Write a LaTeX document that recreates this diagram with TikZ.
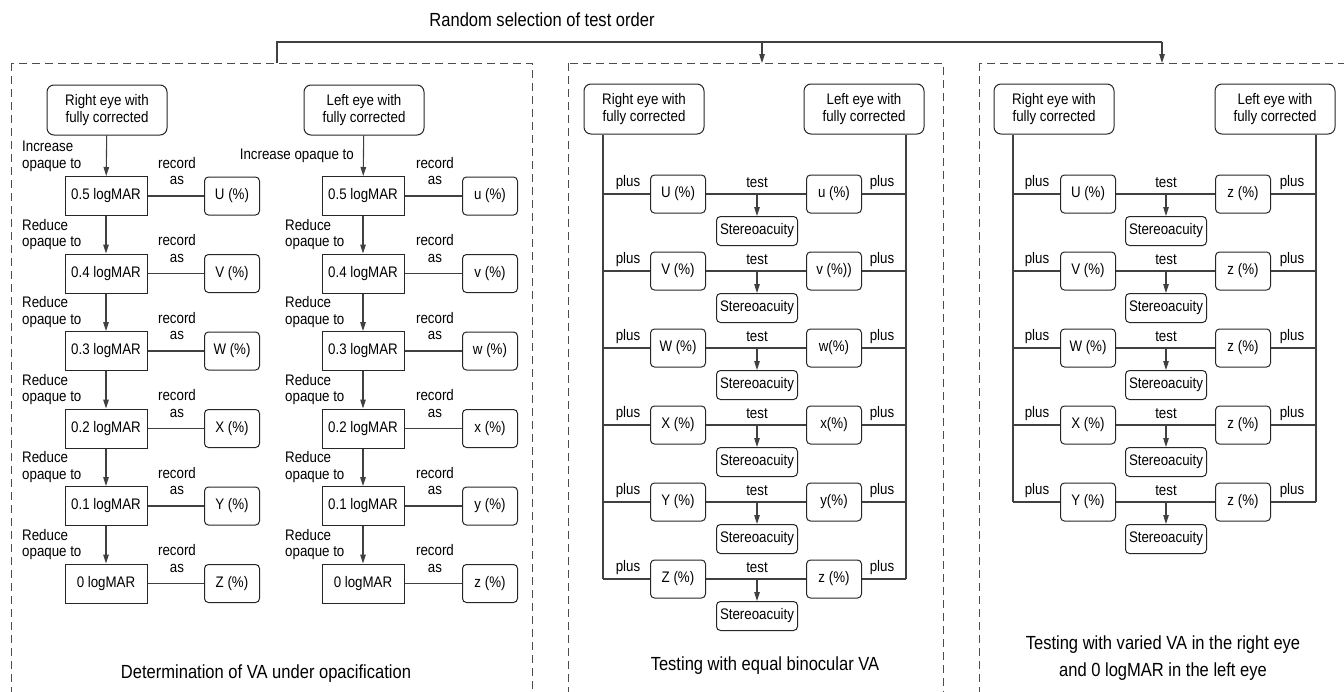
\documentclass[tikz,border=0pt]{standalone}
\usepackage{fontspec}
\setmainfont{Liberation Sans}[FakeStretch=0.87]
\usetikzlibrary{arrows.meta}
\begin{document}
\begin{tikzpicture}[x=1pt,y=-1pt,
  txt/.style={font=\fontsize{15.3}{16.7}\selectfont, inner sep=0pt, align=center},
  rbox/.style={draw=black!85, line width=1pt, rounded corners=7pt, txt, minimum width=120pt, minimum height=50pt},
  sq/.style={draw=black!85, line width=1pt, txt, minimum width=82pt, minimum height=39pt},
  pbox/.style={draw=black!85, line width=1pt, rounded corners=4pt, txt, minimum width=55pt, minimum height=38pt},
  stbox/.style={draw=black!85, line width=1pt, rounded corners=4pt, txt, minimum width=81pt, minimum height=29pt},
  conn/.style={draw=black!75, line width=1.1pt},
  arr/.style={conn, -{Triangle[length=9pt,width=5.5pt]}},
  dbox/.style={draw=black!70, dash pattern=on 8pt off 5pt, line width=1pt},
  ttl/.style={font=\fontsize{19}{27}\selectfont, align=center, inner sep=0pt}]
\useasboundingbox (0,0) rectangle (1344,691);
\clip (0,0) rectangle (1344,691);

% top
\node[ttl] (top) at (542,20) {Random selection of test order};
\draw[dbox] (11,63) rectangle (532,720);
\draw[dbox] (568,63) rectangle (943,720);
\draw[dbox] (979,63) rectangle (1370,720);
\coordinate (t1) at (277,63);
\coordinate (t2) at (762,63);
\coordinate (t3) at (1162,63);
\coordinate (h1) at (277,42);
\coordinate (h2) at (762,42);
\coordinate (h3) at (1162,42);
\draw[conn] (t1) -- (h1) -- (h3);
\draw[arr] (h2) -- (t2);
\draw[arr] (h3) -- (t3);

% ===== panel 1 =====
\node[rbox] (R1) at (107,110) {Right eye with\\fully corrected};
\node[rbox] (L1) at (364,110) {Left eye with\\fully corrected};
\foreach \lv/\U/\u [count=\i from 0] in {0.5/U/u, 0.4/V/v, 0.3/W/w, 0.2/X/x, 0.1/Y/y, 0/Z/z} {
  \pgfmathsetmacro\yy{196+77.5*\i}
  \node[sq] (a\i) at (106,\yy) {\lv{} logMAR};
  \node[pbox] (p\i) at (232,\yy) {\U{} (\%)};
  \draw[conn] (a\i) -- (p\i);
  \node[txt] (ra\i) at (177,\yy-25) {record\\as};
  \node[sq] (b\i) at (363,\yy) {\lv{} logMAR};
  \node[pbox] (q\i) at (490,\yy) {\u{} (\%)};
  \draw[conn] (b\i) -- (q\i);
  \node[txt] (rb\i) at (435,\yy-25) {record\\as};
}
\node[txt, align=left, anchor=west] (ia) at (22,156) {Increase\\opaque to};
\node[txt, anchor=east] (ib) at (354,156) {Increase opaque to};
\draw[arr] (R1) -- (a0);
\draw[arr] (L1) -- (b0);
\foreach \i in {1,...,5} {
  \pgfmathtruncatemacro\j{\i-1}
  \pgfmathsetmacro\yy{196+77.5*\i-39}
  \node[txt, align=left, anchor=west] (da\i) at (22,\yy) {Reduce\\opaque to};
  \node[txt, align=left, anchor=west] (db\i) at (285,\yy) {Reduce\\opaque to};
  \draw[arr] (a\j) -- (a\i);
  \draw[arr] (b\j) -- (b\i);
}
\node[ttl] (T1) at (266,674) {Determination of VA under opacification};

% ===== panel 2 =====
\node[rbox] (R2) at (644,109) {Right eye with\\fully corrected};
\node[rbox] (L2) at (864,109) {Left eye with\\fully corrected};
\foreach \U/\u [count=\i from 0] in {U (\%)/u (\%), V (\%)/v (\%)), W (\%)/w(\%), X (\%)/x(\%), Y (\%)/y(\%), Z (\%)/z (\%)} {
  \pgfmathsetmacro\yy{194+77*\i}
  \coordinate (l\i) at (603,\yy);
  \coordinate (r\i) at (906,\yy);
  \coordinate (c\i) at (757,\yy);
  \node[pbox] (m\i) at (678,\yy) {\U};
  \node[pbox] (n\i) at (834,\yy) {\u};
  \node[stbox] (s\i) at (757,\yy+37) {Stereoacuity};
  \node[txt] (pl\i) at (628,\yy-11) {plus};
  \node[txt] (pr\i) at (882,\yy-11) {plus};
  \node[txt] (te\i) at (757,\yy-11) {test};
  \draw[conn] (l\i) -- (m\i);
  \draw[conn] (m\i) -- (n\i);
  \draw[conn] (n\i) -- (r\i);
  \draw[arr] (c\i) -- (s\i);
}
\draw[conn] (R2.south -| l0) -- (l5);
\draw[conn] (L2.south -| r0) -- (r5);
\node[ttl] (T2) at (765,666) {Testing with equal binocular VA};

% ===== panel 3 =====
\node[rbox] (R3) at (1054,109) {Right eye with\\fully corrected};
\node[rbox] (L3) at (1275,109) {Left eye with\\fully corrected};
\foreach \U [count=\i from 0] in {U, V, W, X, Y} {
  \pgfmathsetmacro\yy{194+77*\i}
  \coordinate (ll\i) at (1013,\yy);
  \coordinate (rr\i) at (1316,\yy);
  \coordinate (cc\i) at (1166,\yy);
  \node[pbox] (mm\i) at (1088,\yy) {\U{} (\%)};
  \node[pbox] (nn\i) at (1243,\yy) {z (\%)};
  \node[stbox] (ss\i) at (1166,\yy+37) {Stereoacuity};
  \node[txt] (ppl\i) at (1037,\yy-11) {plus};
  \node[txt] (ppr\i) at (1292,\yy-11) {plus};
  \node[txt] (tte\i) at (1166,\yy-11) {test};
  \draw[conn] (ll\i) -- (mm\i);
  \draw[conn] (mm\i) -- (nn\i);
  \draw[conn] (nn\i) -- (rr\i);
  \draw[arr] (cc\i) -- (ss\i);
}
\draw[conn] (R3.south -| ll0) -- (ll4);
\draw[conn] (L3.south -| rr0) -- (rr4);
\node[ttl] (T3) at (1163,658) {Testing with varied VA in the right eye\\and 0 logMAR in the left eye};
\end{tikzpicture}
\end{document}
